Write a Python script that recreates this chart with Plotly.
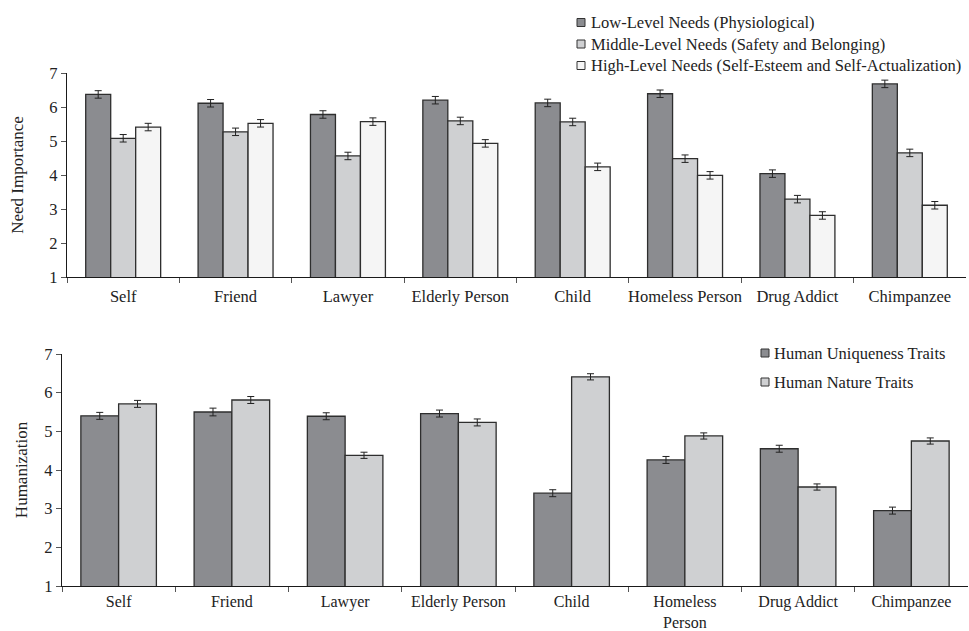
import plotly.graph_objects as go

# Targets rated in both studies
targets_top = ["Self", "Friend", "Lawyer", "Elderly Person", "Child",
               "Homeless Person", "Drug Addict", "Chimpanzee"]
targets_bottom = ["Self", "Friend", "Lawyer", "Elderly Person", "Child",
                  "Homeless<br>Person", "Drug Addict", "Chimpanzee"]

# Need importance means (Maslow levels)
need_labels = ["Low-Level Needs (Physiological)",
               "Middle-Level Needs (Safety and Belonging)",
               "High-Level Needs (Self-Esteem and Self-Actualization)"]
low_needs = [6.37, 6.11, 5.78, 6.20, 6.12, 6.39, 4.04, 6.68]
middle_needs = [5.08, 5.27, 4.56, 5.59, 5.56, 4.48, 3.29, 4.65]
high_needs = [5.41, 5.52, 5.57, 4.93, 4.24, 3.99, 2.81, 3.11]
low_err = [0.11, 0.11, 0.11, 0.11, 0.11, 0.11, 0.11, 0.11]
middle_err = [0.11, 0.11, 0.11, 0.11, 0.11, 0.11, 0.11, 0.11]
high_err = [0.11, 0.11, 0.11, 0.11, 0.11, 0.11, 0.11, 0.11]

# Humanization means
trait_labels = ["Human Uniqueness Traits", "Human Nature Traits"]
uniqueness = [5.40, 5.50, 5.39, 5.46, 3.40, 4.26, 4.55, 2.95]
nature = [5.71, 5.81, 4.38, 5.23, 6.41, 4.88, 3.56, 4.75]
uniq_err = [0.09, 0.10, 0.09, 0.09, 0.09, 0.09, 0.09, 0.09]
nat_err = [0.09, 0.09, 0.08, 0.09, 0.08, 0.08, 0.08, 0.08]

y_ticks = [1, 2, 3, 4, 5, 6, 7]

FONT = "Liberation Serif"
TEXT = "#222222"
DARK = "#8b8c90"
MID = "#cfd0d2"
LIGHT = "#f5f5f5"
EDGE = "#2e2e2e"
W, H = 969, 631


def bar(name, x, y, err, color, xa, ya):
    return go.Bar(
        name=name, x=x, y=y, base=0,
        marker=dict(color=color, line=dict(color=EDGE, width=1.3)),
        error_y=dict(type="data", array=err, color="#222222",
                     thickness=1, width=3.5),
        xaxis=xa, yaxis=ya, showlegend=False,
    )


fig = go.Figure()
fig.add_trace(bar(need_labels[0], targets_top, low_needs, low_err, DARK, "x", "y"))
fig.add_trace(bar(need_labels[1], targets_top, middle_needs, middle_err, MID, "x", "y"))
fig.add_trace(bar(need_labels[2], targets_top, high_needs, high_err, LIGHT, "x", "y"))
fig.add_trace(bar(trait_labels[0], targets_bottom, uniqueness, uniq_err, DARK, "x2", "y2"))
fig.add_trace(bar(trait_labels[1], targets_bottom, nature, nat_err, MID, "x2", "y2"))

# Legend keys: small outlined swatches followed by the series name
shapes, annotations = [], []


def legend_block(labels, colors, box_left, text_left, row_tops, size):
    for label, color, yc in zip(labels, colors, row_tops):
        shapes.append(dict(
            type="rect", xref="paper", yref="paper",
            x0=box_left / W, x1=(box_left + size) / W,
            y0=1 - (yc + size / 2) / H, y1=1 - (yc - size / 2) / H,
            fillcolor=color, line=dict(color="#333333", width=1)))
        annotations.append(dict(
            text=label, xref="paper", yref="paper",
            x=text_left / W, y=1 - yc / H, xanchor="left", yanchor="middle",
            showarrow=False, font=dict(family=FONT, size=16.5, color=TEXT)))


legend_block(need_labels, [DARK, MID, LIGHT], 577, 589, [22.5, 44, 65.5], 8)
legend_block(trait_labels, [DARK, MID], 761, 772, [353, 382], 8)

axis_common = dict(
    showline=True, linecolor="#1a1a1a", linewidth=1.3,
    ticks="outside", ticklen=5, tickcolor="#555555", tickwidth=1,
    showgrid=False, zeroline=False,
)
tick_font = dict(family=FONT, size=16.5, color=TEXT)

fig.update_layout(
    width=W, height=H,
    margin=dict(l=0, r=0, t=0, b=0, autoexpand=False),
    paper_bgcolor="white", plot_bgcolor="white",
    font=dict(family=FONT, size=16.5, color=TEXT),
    barmode="group", bargap=0.333, bargroupgap=0,
    xaxis=dict(domain=[67 / W, 966 / W], anchor="y", tickson="boundaries",
               tickangle=0, ticklabelstandoff=4, tickfont=tick_font,
               **axis_common),
    yaxis=dict(domain=[1 - 277 / H, 1 - 73 / H], anchor="x",
               range=[1, 7], tickvals=y_ticks, tickfont=tick_font,
               title=dict(text="Need Importance", standoff=21,
                          font=dict(family=FONT, size=17)),
               **axis_common),
    xaxis2=dict(domain=[62 / W, 968 / W], anchor="y2", tickson="boundaries",
                tickangle=0, ticklabelstandoff=1,
                tickfont=dict(family=FONT, size=16, color=TEXT),
                **axis_common),
    yaxis2=dict(domain=[1 - 586 / H, 1 - 354 / H], anchor="x2",
                range=[1, 7], tickvals=y_ticks, tickfont=tick_font,
                title=dict(text="Humanization", standoff=12,
                           font=dict(family=FONT, size=17)),
                **axis_common),
    shapes=shapes,
    annotations=annotations,
    showlegend=False,
)

fig.write_html("out.html")
